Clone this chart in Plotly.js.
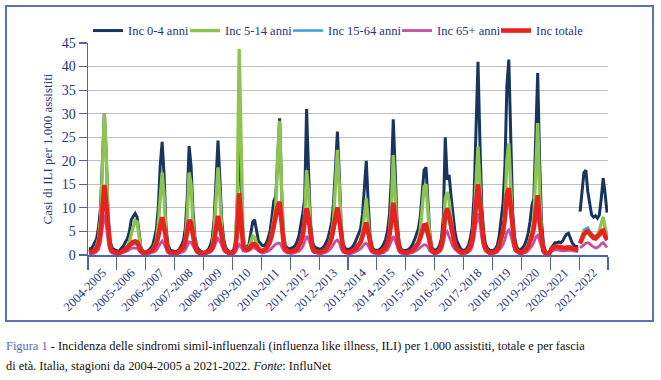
<!DOCTYPE html>
<html>
<head>
<meta charset="utf-8">
<script src="https://cdn.plot.ly/plotly-3.0.1.min.js"></script>
<style>
  html, body { margin: 0; padding: 0; background: #ffffff; }
  #wrap { position: relative; width: 661px; height: 380px; overflow: hidden; }
  #chart { position: absolute; left: 0; top: 0; width: 661px; height: 380px; }
  #box { position: absolute; left: 5px; top: 5px; width: 649px; height: 317px; box-sizing: border-box;
         border: 2px solid #5d70b8; pointer-events: none; }
  #caption { position: absolute; left: 6px; top: 336px; width: 655px; font-family: 'Liberation Serif', 'DejaVu Serif', serif;
             font-size: 12.4px; line-height: 20px; color: #111; white-space: nowrap; }
  #caption .fig { color: #4f6cb4; }
</style>
</head>
<body>
<div id="wrap">
  <div id="chart"></div>
  <div id="box"></div>
  <div id="caption">
    <span class="fig">Figura 1</span> - Incidenza delle sindromi simil-influenzali (influenza like illness, ILI) per 1.000 assistiti, totale e per fascia<br>
    di età. Italia, stagioni da 2004-2005 a 2021-2022. <i>Fonte</i>: InfluNet
  </div>
</div>
<script>
// Season labels (x categories)
const seasons = ["2004-2005","2005-2006","2006-2007","2007-2008","2008-2009","2009-2010","2010-2011","2011-2012",
  "2012-2013","2013-2014","2014-2015","2015-2016","2016-2017","2017-2018","2018-2019","2019-2020","2020-2021","2021-2022"];

// Series names
const seriesNames = ["Inc 0-4 anni","Inc 5-14 anni","Inc 15-64 anni","Inc 65+ anni","Inc totale"];

// Biweekly values per season (week 42 -> week 17), cases per 1,000
const inc04 = [
  [1.4,1.3,1.8,2.5,3.5,6,10,20,30,21,7.5,2.8,1.5,1.2,1],
  [0.8,1,1.5,2,2.8,3.5,5,7.5,8.2,8.8,8,4.5,1.6,0.8,0.6],
  [0.8,1,1.4,2,3.5,5.5,10,19,24,17,6,2.2,1.2,0.9,0.8],
  [0.7,0.9,1.3,2,3,5.5,12,23.1,19,9.5,4,1.8,1.1,0.8,0.6],
  [0.6,0.8,1.2,2,3.5,7.5,16,24.3,16,7,3.2,1.6,1,0.7,0.6],
  [1,2.5,11,25.8,14,3.5,2,1.8,2,4.5,7,7.5,5,3,2.5],
  [2,2,2.5,3.5,5,8,11.5,12.5,21,29,14,4.5,2,1.5,1.3],
  [1.5,1.6,2,2.8,4,6,8.8,12,31,18,7,2.8,1.8,1.5,1.3],
  [1.2,1.4,1.8,2.5,3.5,5,7,11,19,26.2,17,6,2.4,1.4,1.2],
  [1.2,1.4,1.8,2.5,3.5,4.5,5.5,8.5,15,20,11,4,1.7,1.1,1],
  [1,1.2,1.6,2.3,3.3,5,8.5,16,28.8,18,7,2.8,1.3,1,0.9],
  [1,1.2,1.6,2.2,3.2,4.2,5.5,8,14,18,18.6,12,4.5,1.6,1.1],
  [1,1.3,2,3.5,8,25,16,17,12.5,8.5,5,3,2,1.3,1],
  [1,1.3,2,3.5,6,13,26,41,24,10,4.5,2.2,1.4,1,0.9],
  [1,1.3,2,4,8,11,19,36,41.5,22,9,3.8,1.8,1.2,1],
  [1.5,2,3,4.5,7,10.5,12,27,38.6,20,7,2.2,0.8,0.5,0.4],
  [1.5,2,2.6,2.6,2.8,2.6,3,3.8,4.4,4.6,3.5,2.5,2,1.8,1.8],
  [9.2,13,17.5,18,13.5,11,8.5,8,8.3,7.8,8.5,12,16.3,13,9]
];
const inc514 = [
  [0.5,0.5,0.8,1.2,2,3.5,7.5,17,30,21,6.5,1.8,0.8,0.5,0.4],
  [0.3,0.4,0.6,0.9,1.2,1.8,2.8,4.5,6,7.3,7,4,1.1,0.4,0.3],
  [0.4,0.5,0.7,1,1.8,3,6.5,13.5,17.5,12.5,4.2,1.2,0.5,0.4,0.3],
  [0.3,0.4,0.6,1,1.6,3.2,8,17.5,15,7,2.8,1,0.5,0.3,0.3],
  [0.3,0.4,0.6,1,2,5,12,18.6,12.5,5,2.2,1,0.5,0.3,0.3],
  [0.5,1.8,12,43.7,24,4.5,1.6,1,1.5,2.8,4,3.8,2.5,1.2,0.8],
  [0.8,0.9,1.2,2,3,5,7.5,10,21,28.5,14,4,1.2,0.8,0.6],
  [0.6,0.7,0.9,1.3,2,3,4.5,8,18,13.5,4.8,1.4,0.7,0.5,0.5],
  [0.5,0.6,0.8,1.2,1.8,2.8,4.5,7.5,14.5,22.3,14.5,4.8,1.3,0.6,0.5],
  [0.5,0.6,0.8,1.2,1.7,2.3,3,4.8,8.5,12,7.2,2.5,0.9,0.5,0.5],
  [0.4,0.5,0.7,1,1.6,2.6,4.8,10,21.2,13.5,4.8,1.4,0.6,0.4,0.4],
  [0.4,0.5,0.7,1,1.4,2,3,5,10,14.5,15,10,3.5,1,0.5],
  [0.4,0.6,1,2,5,12,13.4,11.5,7.5,4.3,2.5,1.3,0.8,0.5,0.4],
  [0.4,0.6,1,1.8,3.5,7.5,14.5,23,15,6.5,2.5,1,0.6,0.4,0.4],
  [0.4,0.6,1,2,3.5,5,9.5,20,23.7,14,5.5,2,0.8,0.5,0.4],
  [0.6,0.8,1.2,2,3.5,5,7.5,18.5,28,13.5,4,0.9,0.3,0.2,0.2],
  [0.8,1,1.3,1.4,1.3,1.2,1.2,1.4,1.6,1.7,1.5,1.2,1,1,0.9],
  [2.5,4,5.3,5.5,4.8,4.2,3.8,4,4,4.3,5.2,6.8,8.1,5.8,4]
];
const inc1564 = [
  [0.5,0.5,0.7,0.9,1.3,2.2,4.3,8.8,13.5,9.8,4,1.4,0.7,0.5,0.4],
  [0.4,0.5,0.6,0.8,1,1.4,1.8,2.2,2.3,2.3,2.1,1.6,0.7,0.4,0.3],
  [0.4,0.5,0.7,1,1.4,2,3.4,5.6,6.5,4.9,2.2,0.9,0.5,0.4,0.3],
  [0.3,0.4,0.6,0.9,1.3,2.2,4,5.5,5.1,3.3,1.6,0.8,0.4,0.3,0.3],
  [0.3,0.4,0.6,0.9,1.4,2.5,4.8,6.8,5.1,2.8,1.5,0.8,0.5,0.4,0.3],
  [0.5,1.1,3.8,11,6.5,1.9,1.1,1,1.2,1.6,2,2,1.5,1,0.8],
  [0.8,0.9,1.2,1.8,2.5,3.8,5.7,7.2,9,10,6.3,2.5,1.1,0.8,0.6],
  [0.6,0.7,0.9,1.2,1.7,2.5,3.7,5.8,8.6,7,3.4,1.5,0.8,0.6,0.5],
  [0.5,0.6,0.8,1.1,1.5,2.2,3.2,4.8,7.2,9,6.5,2.9,1.1,0.6,0.5],
  [0.5,0.6,0.8,1.1,1.4,1.9,2.4,3.5,5.1,6.1,4.2,1.9,0.9,0.6,0.5],
  [0.4,0.5,0.7,1,1.4,2.2,3.6,6.2,9.8,7.1,3.2,1.4,0.7,0.5,0.4],
  [0.4,0.5,0.7,0.9,1.2,1.6,2.2,3.2,4.5,5.2,5,3.8,1.8,0.8,0.5],
  [0.4,0.6,1,1.8,3.8,7.6,8.8,7.3,5.1,3.3,2,1.2,0.8,0.5,0.4],
  [0.4,0.6,1,1.6,2.9,5.6,10,13.6,10,4.9,2.2,1.1,0.7,0.5,0.4],
  [0.4,0.6,1,1.8,3.2,4.5,7,11.5,12.8,8.6,4.1,1.8,0.9,0.6,0.4],
  [0.5,0.7,1.1,1.6,2.5,3.6,5.2,9.4,11.3,6.2,2.4,0.8,0.4,0.3,0.3],
  [1.1,1.4,1.7,1.7,1.6,1.5,1.4,1.4,1.5,1.6,1.5,1.3,1.2,1.1,1],
  [2.4,3.5,4.6,5.5,5.8,5,4.2,3.7,3.5,3.8,4.2,4.8,5,3.9,3.1]
];
const inc65 = [
  [0.2,0.2,0.3,0.4,0.7,1.2,2.7,5.8,8.5,6.3,2.7,0.9,0.4,0.3,0.2],
  [0.2,0.3,0.4,0.5,0.7,0.9,1.2,1.4,1.5,1.5,1.4,1,0.5,0.3,0.2],
  [0.2,0.3,0.4,0.5,0.7,1,1.7,2.6,3,2.3,1.2,0.5,0.3,0.2,0.2],
  [0.2,0.3,0.4,0.5,0.7,1.1,2.1,2.8,2.7,1.9,1,0.5,0.3,0.2,0.2],
  [0.2,0.3,0.4,0.6,0.9,1.6,2.7,3.5,2.9,1.7,0.9,0.5,0.3,0.2,0.2],
  [0.3,0.6,1.3,2.2,1.7,0.9,0.8,0.8,0.9,1.2,1.5,1.5,1.2,0.8,0.6],
  [0.4,0.5,0.6,0.8,1.1,1.5,2,2.3,2.5,2.5,1.9,1,0.6,0.4,0.4],
  [0.3,0.4,0.5,0.6,0.8,1.2,1.8,2.8,4,3.4,1.9,0.8,0.5,0.4,0.3],
  [0.3,0.3,0.4,0.6,0.8,1.1,1.6,2.3,2.9,3.2,2.6,1.3,0.6,0.4,0.3],
  [0.3,0.3,0.4,0.6,0.8,1,1.3,1.8,2.3,2.5,2,1.1,0.6,0.4,0.3],
  [0.2,0.3,0.4,0.5,0.8,1.1,1.9,3,4,3.1,1.6,0.7,0.4,0.3,0.2],
  [0.3,0.3,0.4,0.5,0.7,0.9,1.2,1.6,2,2.2,2.1,1.7,0.9,0.5,0.3],
  [0.3,0.4,0.6,1.1,2.4,4.6,5,3.9,2.7,1.8,1.2,0.8,0.5,0.3,0.3],
  [0.3,0.4,0.6,1,1.8,3.7,6.5,8.8,6.8,3.5,1.7,0.9,0.5,0.3,0.3],
  [0.3,0.4,0.6,1,1.6,2.2,3.3,4.9,5.3,4.2,2.3,1.1,0.6,0.4,0.3],
  [0.3,0.4,0.6,0.9,1.3,1.9,2.7,3.8,4.2,3,1.4,0.5,0.3,0.2,0.2],
  [0.8,1,1.1,1.1,1,0.9,0.9,0.9,1,1,1,0.9,0.8,0.8,0.7],
  [1.5,1.8,2.2,2.5,2.6,2.4,2,1.7,1.5,1.6,1.9,2.4,2.6,2.1,1.6]
];
const incTot = [
  [0.6,0.6,0.8,1,1.5,2.5,4.8,9.8,14.8,10.8,4.4,1.6,0.8,0.6,0.5],
  [0.4,0.5,0.7,0.9,1.2,1.6,2.1,2.6,2.8,2.9,2.7,1.9,0.8,0.5,0.4],
  [0.5,0.6,0.8,1.1,1.6,2.4,4,6.7,8,6,2.5,1,0.6,0.5,0.4],
  [0.4,0.5,0.8,1.1,1.6,2.7,5,7.4,6.8,4.2,2,0.9,0.5,0.4,0.3],
  [0.4,0.5,0.7,1,1.6,2.9,5.8,8.3,6.2,3.3,1.7,0.9,0.6,0.4,0.4],
  [0.6,1.3,5.2,13.1,7.6,2.1,1.2,1.1,1.3,1.8,2.3,2.3,1.7,1.1,0.9],
  [0.9,1,1.3,2,2.8,4.3,6.5,8.2,10.2,11.3,7,2.8,1.2,0.9,0.7],
  [0.7,0.8,1,1.3,1.9,2.8,4.2,6.6,9.9,8,3.8,1.6,0.9,0.7,0.6],
  [0.6,0.7,0.9,1.2,1.7,2.5,3.6,5.5,8.2,10.1,7.4,3.2,1.2,0.7,0.6],
  [0.6,0.7,0.9,1.2,1.6,2.1,2.7,3.9,5.8,6.9,4.8,2.1,1,0.7,0.6],
  [0.5,0.6,0.8,1.1,1.6,2.5,4.1,7,11.1,8,3.6,1.5,0.8,0.5,0.5],
  [0.5,0.6,0.8,1,1.4,1.8,2.5,3.6,5.2,6.3,6.4,4.7,2.1,0.9,0.6],
  [0.5,0.7,1.1,2,4.3,8.5,9.9,8.3,5.8,3.7,2.3,1.4,0.9,0.6,0.5],
  [0.5,0.7,1.1,1.8,3.2,6.2,11,15,11,5.4,2.4,1.2,0.8,0.5,0.5],
  [0.5,0.7,1.1,2,3.5,5,7.8,12.8,14.2,9.5,4.6,2,1,0.6,0.5],
  [0.6,0.8,1.2,1.8,2.8,4,5.7,10.5,12.7,7,2.7,0.9,0.4,0.3,0.3],
  [1.2,1.5,1.8,1.8,1.7,1.6,1.5,1.5,1.6,1.7,1.6,1.4,1.3,1.2,1.1],
  [2.5,3.5,4.4,4.8,5,4.6,4,3.6,3.5,3.8,4.3,5,5.2,4,3.2]
];

const colors = ["#17365d", "#8dc350", "#37a0da", "#c4519f", "#e8231e"];
const widths = [3, 3.4, 2.5, 2.8, 4.6];
const legendWidths = [52, 58, 64, 54, 50];
const allData = [inc04, inc514, inc1564, inc65, incTot];

function buildXY(seriesArr) {
  const x = [], y = [];
  seriesArr.forEach((vals, s) => {
    if (s === 17) { x.push(s); y.push(null); } // data break before 2021-2022
    const n = vals.length;
    vals.forEach((v, k) => { x.push(s + (k + 0.5) / n); y.push(v); });
  });
  return {x, y};
}

const traces = allData.map((arr, i) => {
  const xy = buildXY(arr);
  return {
    type: "scatter", mode: "lines", name: seriesNames[i],
    x: xy.x, y: xy.y, connectgaps: false,
    line: {color: colors[i], width: widths[i]},
    legendwidth: legendWidths[i],
    hoverinfo: "skip"
  };
});

const axisBlue = "#5063ae";
const textNavy = "#27337a";
const fam = "'Liberation Serif', 'DejaVu Serif', serif";
const font = {family: fam, size: 12, color: textNavy};

const layout = {
  width: 661, height: 380,
  margin: {l: 88, r: 53, t: 43, b: 125, pad: 0},
  paper_bgcolor: "rgba(0,0,0,0)", plot_bgcolor: "rgba(0,0,0,0)",
  font: font,
  showlegend: true,
  legend: {orientation: "h", x: 0.0, xanchor: "left", y: 1.057, yanchor: "middle",
           font: {family: fam, size: 12.5, color: textNavy}, traceorder: "normal",
           itemwidth: 30, bgcolor: "rgba(0,0,0,0)"},
  xaxis: {
    range: [0, 18], fixedrange: true,
    tickmode: "array", tickvals: seasons.map((s, i) => i + 0.5), ticktext: seasons,
    tickangle: -45, ticks: "", ticklabelstandoff: 4,
    tickfont: {family: fam, size: 12.5, color: textNavy},
    showgrid: false, zeroline: false,
    showline: true, linecolor: axisBlue, linewidth: 1.5,
    minor: {tickmode: "array", tickvals: seasons.map((s, i) => i).concat([18]),
            ticks: "outside", ticklen: 13, tickwidth: 1.2, tickcolor: axisBlue, showgrid: false}
  },
  yaxis: {
    range: [0, 45], fixedrange: true,
    tickmode: "linear", tick0: 0, dtick: 5,
    ticks: "outside", ticklen: 8, tickwidth: 1.2, tickcolor: axisBlue,
    tickfont: {family: fam, size: 14, color: textNavy},
    showgrid: true, gridcolor: "#c0c0c0", gridwidth: 1,
    zeroline: false, showline: true, linecolor: axisBlue, linewidth: 1.5,
    title: {text: "Casi di ILI per 1.000 assistiti", standoff: 6,
            font: {family: fam, size: 13, color: textNavy}}
  }
};

Plotly.newPlot("chart", traces, layout, {staticPlot: true, displayModeBar: false});
</script>
</body>
</html>
